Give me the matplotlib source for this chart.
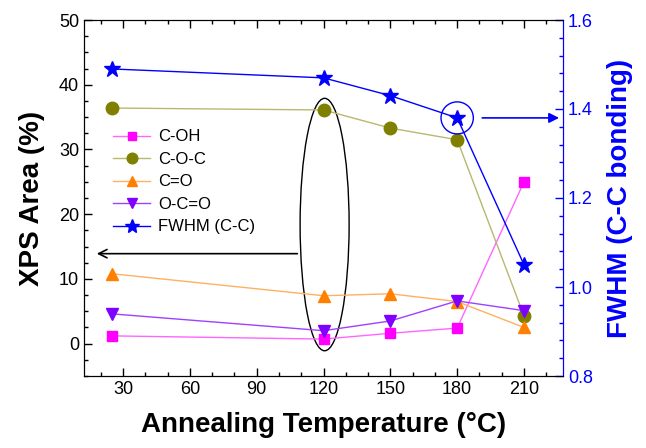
import numpy as np
import matplotlib.pyplot as plt
from matplotlib.patches import Ellipse
from matplotlib.ticker import MultipleLocator

plt.rcParams['font.family'] = ['Liberation Sans', 'DejaVu Sans']

temp = [25, 120, 150, 180, 210]
c_oh = [1.2, 0.7, 1.6, 2.4, 25.0]
c_o_c = [36.4, 36.1, 33.3, 31.5, 4.3]
c_eq_o = [10.8, 7.4, 7.7, 6.5, 2.5]
o_c_eq_o = [4.6, 2.0, 3.5, 6.6, 5.1]
fwhm = [1.49, 1.47, 1.43, 1.38, 1.05]

fig = plt.figure(figsize=(6.46, 4.48), dpi=100)
ax = fig.add_axes([84/646, 1-376/448, (563-84)/646, (376-20)/448])
ax2 = ax.twinx()

ax.plot(temp, c_oh, '-', color='#ff66ff', lw=1, marker='s', mfc='#ff00ff', mec='#ff00ff', ms=7.5, label='C-OH')
ax.plot(temp, c_o_c, '-', color='#b8b870', lw=1, marker='o', mfc='#808000', mec='#808000', ms=9, label='C-O-C')
ax.plot(temp, c_eq_o, '-', color='#ffb060', lw=1, marker='^', mfc='#ff8000', mec='#ff8000', ms=9, label='C=O')
ax.plot(temp, o_c_eq_o, '-', color='#a040ff', lw=1, marker='v', mfc='#8000ff', mec='#8000ff', ms=9, label='O-C=O')
l5, = ax2.plot(temp, fwhm, '-', color='#0000ff', lw=1, marker='*', mfc='#0000ff', mec='#0000ff', ms=12, label='FWHM (C-C)')

ax.set_xlim(12.5, 227.5)
ax.set_ylim(-5, 50)
ax2.set_ylim(0.8, 1.6)

ax.xaxis.set_major_locator(MultipleLocator(30))
ax.xaxis.set_minor_locator(MultipleLocator(10))
ax.yaxis.set_major_locator(MultipleLocator(10))
ax.yaxis.set_minor_locator(MultipleLocator(2.5))
ax2.yaxis.set_major_locator(MultipleLocator(0.2))
ax2.yaxis.set_minor_locator(MultipleLocator(0.04))

ax.tick_params(which='both', direction='in', top=True, labelsize=13)
ax.tick_params(which='major', length=6, width=1)
ax.tick_params(which='minor', length=3, width=1)
ax2.tick_params(which='both', direction='in', colors='#0000ff', labelsize=13)
ax2.tick_params(which='major', length=6, width=1)
ax2.tick_params(which='minor', length=3, width=1)
ax2.spines['right'].set_color('#0000ff')
ax.spines['right'].set_color('#0000ff')

ax.set_xlabel('Annealing Temperature (\u00b0C)', fontsize=20, fontweight='bold', labelpad=10)
ax.set_ylabel('XPS Area (%)', fontsize=20, fontweight='bold', labelpad=10)
ax2.set_ylabel('FWHM (C-C bonding)', fontsize=20, fontweight='bold', color='#0000ff', labelpad=10)

# annotations
ax.add_patch(Ellipse((120.5, 18.4), 22, 39, fill=False, ec='black', lw=1))
ax.annotate('', xy=(17, 13.9), xytext=(109.5, 13.9),
            arrowprops=dict(arrowstyle='->', color='black', lw=1.2, mutation_scale=15))
ax2.add_patch(Ellipse((180, 1.38), 14.5, 0.072, fill=False, ec='#0000ff', lw=1))
ax2.annotate('', xy=(227, 1.38), xytext=(190, 1.38),
             arrowprops=dict(arrowstyle='-|>', color='#0000ff', lw=1.2, mutation_scale=15))

h1, lb1 = ax.get_legend_handles_labels()
leg = ax.legend(h1 + [l5], lb1 + ['FWHM (C-C)'], loc='upper left', bbox_to_anchor=(0.03, 0.735),
                frameon=False, fontsize=12, handlelength=2.2, labelspacing=0.45, handletextpad=0.5,
                markerscale=0.85)

fig.savefig('out.png', dpi=100)
